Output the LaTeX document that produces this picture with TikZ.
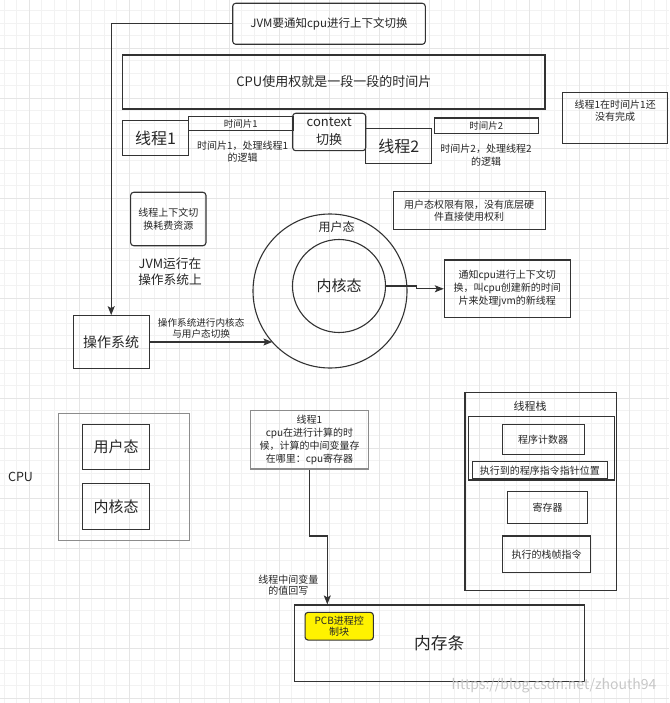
\documentclass[tikz,border=0pt]{standalone}
\usepackage{fontspec}
\setmainfont{Noto Sans CJK SC}
\usepackage{xcolor}
\usetikzlibrary{positioning,arrows.meta}

\begin{document}
\begin{tikzpicture}[
  x=1pt, y=-1pt,
  font=\fontsize{10}{12.5}\selectfont,
  box/.style={draw=black!80, line width=1.1pt, align=center, inner sep=0pt, text=black!85},
  rbox/.style={box, rounded corners=3pt},
  gbox/.style={box, draw=black!45},
  lbl/.style={align=center, inner sep=0pt, text=black!85},
  conn/.style={draw=black!80, line width=1.1pt, ->},
  gridmin/.style={draw=black!5, line width=0.8pt},
  gridmaj/.style={draw=black!10, line width=0.8pt},
  >={Stealth[length=9pt,width=7pt,inset=2pt]}
]
\useasboundingbox (0,0) rectangle (669,703);

% grid
\foreach \gx in {4.3,16.8,...,669} \draw[gridmin] (\gx,0) -- (\gx,703);
\foreach \gy in {-1.7,10.8,...,703} \draw[gridmin] (0,\gy) -- (669,\gy);
\foreach \gx in {29.3,79.3,...,669} \draw[gridmaj] (\gx,0) -- (\gx,703);
\foreach \gy in {48.3,98.3,...,703} \draw[gridmaj] (0,\gy) -- (669,\gy);

% time slices
\node[rbox, minimum width=192.6, minimum height=41, font=\fontsize{11.5}{14}\selectfont] (jvm) at (329,23.8) {JVM要通知cpu进行上下文切换};
\node[box, minimum width=422.3, minimum height=54, font=\fontsize{13}{16}\selectfont] (slices) at (333.8,82) {CPU使用权就是一段一段的时间片};
\node[box, minimum width=65.6, minimum height=35.3, font=\fontsize{16}{19}\selectfont] (thread1) at (155.5,138.3) {线程1};
\node[box, minimum width=105, minimum height=14.3, font=\fontsize{9.5}{11}\selectfont] (slice1) at (240.8,123.8) {时间片1};
\node[lbl] (slice1txt) at (242.7,151.7) {时间片1，处理线程1\\的逻辑};
\node[rbox, minimum width=73, minimum height=37.4, font=\fontsize{13}{18}\selectfont] (ctx) at (329.2,132) {context\\切换};
\node[box, minimum width=66, minimum height=34.6, font=\fontsize{16}{19}\selectfont] (thread2) at (398.7,146) {线程2};
\node[box, minimum width=104, minimum height=15.3, font=\fontsize{9.5}{11}\selectfont] (slice2) at (486.3,125.7) {时间片2};
\node[lbl] (slice2txt) at (486,155) {时间片2，处理线程2\\的逻辑};
\node[box, minimum width=105, minimum height=50.6] (unfinished) at (615.2,118) {};
\node[lbl, font=\fontsize{10}{11.5}\selectfont, yshift=7.5pt] (unfinishedtxt) at (unfinished) {线程1在时间片1还\\没有完成};

% user / kernel mode
\node[rbox, minimum width=75.3, minimum height=53.4] (costly) at (168.3,219) {线程上下文切\\换耗费资源};
\node[lbl, font=\fontsize{12.7}{16}\selectfont] (jvmos) at (170,272) {JVM运行在\\操作系统上};
\node[circle, draw=black!80, line width=1.1pt, minimum size=154, inner sep=0pt] (user) at (330,291) {};
\node[lbl, font=\fontsize{12}{14}\selectfont] (usertxt) at (336.7,226.7) {用户态};
\node[circle, draw=black!80, line width=1.1pt, minimum size=93, inner sep=0pt, text=black!85, font=\fontsize{15}{18}\selectfont] (kernel) at (339,286) {内核态};
\node[box, minimum width=151.7, minimum height=37.6] (limited) at (469.2,210.5) {用户态权限有限，没有底层硬\\件直接使用权利};
\node[box, minimum width=125.7, minimum height=57.7, font=\fontsize{10}{13}\selectfont] (notify) at (507.2,288.8) {通知cpu进行上下文切\\换，叫cpu创建新的时间\\片来处理jvm的新线程};
\node[box, minimum width=75.7, minimum height=52.6, font=\fontsize{14}{17}\selectfont] (os) at (111.2,342) {操作系统};

% cpu
\node[lbl, font=\fontsize{12.5}{15}\selectfont] (cpulbl) at (20.5,476.7) {CPU};
\node[gbox, minimum width=130.6, minimum height=126.7] (cpu) at (124,476.7) {};
\node[box, minimum width=66.6, minimum height=45, font=\fontsize{15}{18}\selectfont] (cpuuser) at (116,446.8) {用户态};
\node[box, minimum width=66.6, minimum height=45.6, font=\fontsize{15}{18}\selectfont, below=13.4pt of cpuuser] (cpukernel) {内核态};

% registers and memory
\node[gbox, minimum width=117.6, minimum height=58.3, font=\fontsize{10}{13.1}\selectfont] (thrcpu) at (309.5,439.8) {线程1\\cpu在进行计算的时\\候，计算的中间变量存\\在哪里：cpu寄存器};
\coordinate (bend) at (327.3,536);
\node[lbl, font=\fontsize{10}{11.7}\selectfont] (writeback) at (288.3,585) {线程中间变量\\的值回写};
\node[box, minimum width=289.7, minimum height=76.7, font=\fontsize{16.7}{20}\selectfont] (mem) at (439.2,643.3) {内存条};
\node[rbox, fill=yellow, minimum width=68.3, minimum height=27.7, font=\fontsize{10}{11.6}\selectfont] (pcb) at (339.2,626.2) {PCB进程控\\制块};

% thread stack
\node[box, minimum width=151.7, minimum height=197.7] (stack) at (540.8,491.2) {};
\node[lbl, font=\fontsize{11}{13}\selectfont] (stacktitle) at (530,406.7) {线程栈};
\node[box, minimum width=145.7, minimum height=63.3] (stackinner) at (541.2,448.3) {};
\node[box, minimum width=81.7, minimum height=29.7] (pc) at (543.2,439.2) {程序计数器};
\node[box, minimum width=135, minimum height=17.3] (ptr) at (539.8,470.3) {执行到的程序指令指针位置};
\node[box, minimum width=80.4, minimum height=32.3] (reg) at (547.5,507.2) {寄存器};
\node[box, minimum width=88.4, minimum height=36.7] (frame) at (546.5,554.3) {执行的栈帧指令};

\node[text=black!22, inner sep=0pt, font=\fontsize{14}{16}\selectfont] (wm) at (554,686) {https://blog.csdn.net/zhouth94};

% edges
\draw[conn] (jvm.west) -| (os.north);
\draw[conn] (os.east) -- (os.east -| user.222)
  node[lbl, pos=0.42, above=3pt, font=\fontsize{9.6}{11}\selectfont] {操作系统进行内核态\\与用户态切换};
\draw[conn] (kernel.east) -- ++(30,0) |- (notify.west);
\draw[conn] (thrcpu.south) |- (bend) -- (bend |- mem.north);
\end{tikzpicture}
\end{document}
